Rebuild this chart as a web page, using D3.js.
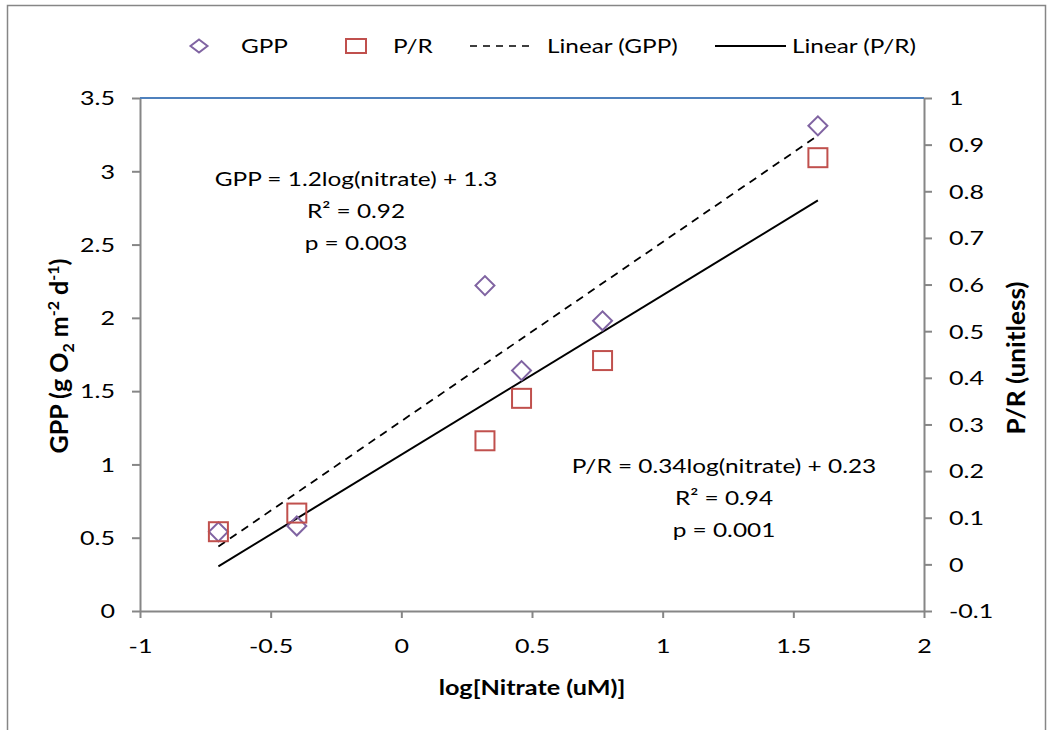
<!DOCTYPE html>
<html lang="en">
<head>
<meta charset="UTF-8">
<title>GPP and P/R vs log nitrate</title>
<style>
  body { margin: 0; background: #fff; }
  svg text { font-family: Lato, "Open Sans", sans-serif; fill: #000; }
  .tick text { font-size: 19px; }
  .axis path, .axis line { stroke: #868686; stroke-width: 2px; }
  .ann { font-size: 20px; }
  .ttl { font-weight: bold; }
</style>
</head>
<body>
<div id="chart"></div>
<script src="https://cdn.jsdelivr.net/npm/d3@7"></script>
<script>
// data
const logNitrate = [-0.70, -0.40, 0.32, 0.46, 0.77, 1.594];
const gpp = [0.54, 0.58, 2.22, 1.64, 1.98, 3.31];
const pr = [0.07, 0.11, 0.265, 0.356, 0.437, 0.872];
const xTicks = [-1, -0.5, 0, 0.5, 1, 1.5, 2];
const yLeftTicks = [0, 0.5, 1, 1.5, 2, 2.5, 3, 3.5];
const yRightTicks = [-0.1, 0, 0.1, 0.2, 0.3, 0.4, 0.5, 0.6, 0.7, 0.8, 0.9, 1];
const gppNote = ["GPP = 1.2log(nitrate) + 1.3", "R² = 0.92", "p = 0.003"];
const prNote = ["P/R = 0.34log(nitrate) + 0.23", "R² = 0.94", "p = 0.001"];
const legendNames = ["GPP", "P/R", "Linear (GPP)", "Linear (P/R)"];

const width = 1052, height = 730;
const m = { left: 140, right: 924, top: 98, bottom: 611 };
// the original text is drawn wider than it is tall
const SX = 1.32, SX_ANN = 1.22, SX_LEG = 1.28, SX_TTL = 1.23;

const svg = d3.select("#chart").append("svg")
  .attr("width", width).attr("height", height);

// outer chart frame
svg.append("rect")
  .attr("x", 7.5).attr("y", 5.5).attr("width", 1038).attr("height", 740)
  .attr("fill", "none").attr("stroke", "#868686").attr("stroke-width", 1.5);

const x = d3.scaleLinear().domain([-1, 2]).range([m.left, m.right]);
const yL = d3.scaleLinear().domain([0, 3.5]).range([m.bottom, m.top]);
const yR = d3.scaleLinear().domain([-0.1, 1]).range([m.bottom, m.top]);

// least squares fit for the trend lines
function fit(xs, ys) {
  const mx = d3.mean(xs), my = d3.mean(ys);
  let sxy = 0, sxx = 0;
  xs.forEach((v, i) => { sxy += (v - mx) * (ys[i] - my); sxx += (v - mx) * (v - mx); });
  const b = sxy / sxx;
  return { b: b, a: my - b * mx };
}
const x0 = d3.min(logNitrate), x1 = d3.max(logNitrate);
const fG = fit(logNitrate, gpp), fP = fit(logNitrate, pr);

// axes
const fmt = d => String(d);
svg.append("g").attr("class", "axis")
  .attr("transform", `translate(0,${m.bottom})`)
  .call(d3.axisBottom(x).tickValues(xTicks).tickFormat(fmt).tickSize(7).tickSizeOuter(0))
  .call(g => g.selectAll(".tick text").attr("y", 42).attr("dy", 0)
    .attr("transform", `scale(${SX},1)`));

svg.append("g").attr("class", "axis")
  .attr("transform", `translate(${m.left},0)`)
  .call(d3.axisLeft(yL).tickValues(yLeftTicks).tickFormat(fmt).tickSize(8).tickSizeOuter(0))
  .call(g => g.selectAll(".tick text").attr("x", -25 / SX).attr("dy", "0.36em")
    .attr("transform", `scale(${SX},1)`));

svg.append("g").attr("class", "axis")
  .attr("transform", `translate(${m.right},0)`)
  .call(d3.axisRight(yR).tickValues(yRightTicks).tickFormat(fmt).tickSize(8).tickSizeOuter(0))
  .call(g => g.selectAll(".tick text").attr("x", 25 / SX).attr("dy", "0.36em")
    .attr("transform", `scale(${SX},1)`));

// top border line (blue)
svg.append("line")
  .attr("x1", m.left).attr("x2", m.right).attr("y1", m.top).attr("y2", m.top)
  .attr("stroke", "#4f81bd").attr("stroke-width", 2);

// trend lines
svg.append("line")
  .attr("x1", x(x0)).attr("x2", x(x1))
  .attr("y1", yL(fG.a + fG.b * x0)).attr("y2", yL(fG.a + fG.b * x1))
  .attr("stroke", "#000").attr("stroke-width", 1.8).attr("stroke-dasharray", "8,6");
svg.append("line")
  .attr("x1", x(x0)).attr("x2", x(x1))
  .attr("y1", yR(fP.a + fP.b * x0)).attr("y2", yR(fP.a + fP.b * x1))
  .attr("stroke", "#000").attr("stroke-width", 2);

// markers
const diamond = d3.symbol().type(d3.symbolSquare).size(180);
svg.append("g").selectAll("path")
  .data(logNitrate)
  .join("path")
  .attr("d", diamond)
  .attr("transform", (d, i) => `translate(${x(d)},${yL(gpp[i])}) rotate(45)`)
  .attr("fill", "none").attr("stroke", "#8064a2").attr("stroke-width", 2);

svg.append("g").selectAll("rect")
  .data(logNitrate)
  .join("rect")
  .attr("x", d => x(d) - 9.5).attr("y", (d, i) => yR(pr[i]) - 9.5)
  .attr("width", 19).attr("height", 19)
  .attr("fill", "none").attr("stroke", "#c0504d").attr("stroke-width", 2);

// stretched text helper
function label(parent, px, py, txt, cls, anchor, sx) {
  return parent.append("text")
    .attr("class", cls)
    .attr("transform", `translate(${px},${py}) scale(${sx},1)`)
    .attr("text-anchor", anchor)
    .text(txt);
}

// equations
function note(lines, cx, y0) {
  lines.forEach((t, i) => label(svg, cx, y0 + i * 32, t, "ann", "middle", SX_ANN));
}
note(gppNote, 356, 186);
note(prNote, 724, 473);

// axis titles
label(svg, 532, 695, "log[Nitrate (uM)]", "ttl", "middle", SX_TTL).style("font-size", "20.5px");

const lt = svg.append("text").attr("class", "ttl")
  .attr("transform", "translate(68,356) rotate(-90)").attr("text-anchor", "middle")
  .style("font-size", "25px");
lt.append("tspan").text("GPP (g O");
lt.append("tspan").attr("dy", 6).attr("font-size", "16px").text("2");
lt.append("tspan").attr("dy", -6).text(" m");
lt.append("tspan").attr("dy", -9).attr("font-size", "16px").text("-2");
lt.append("tspan").attr("dy", 9).text(" d");
lt.append("tspan").attr("dy", -9).attr("font-size", "16px").text("-1");
lt.append("tspan").attr("dy", 9).text(")");

svg.append("text").attr("class", "ttl")
  .attr("transform", "translate(1025,358) rotate(-90)").attr("text-anchor", "middle")
  .style("font-size", "25px")
  .attr("textLength", 153).attr("lengthAdjust", "spacingAndGlyphs")
  .text("P/R (unitless)");

// legend
const lg = svg.append("g").attr("class", "legend");
lg.append("path").attr("d", "M0,-6.5L8.5,0L0,6.5L-8.5,0Z")
  .attr("transform", "translate(199,46)")
  .attr("fill", "none").attr("stroke", "#8064a2").attr("stroke-width", 2);
lg.append("rect").attr("x", 346).attr("y", 39).attr("width", 20).attr("height", 14)
  .attr("fill", "none").attr("stroke", "#c0504d").attr("stroke-width", 2);
lg.append("line").attr("x1", 470).attr("x2", 533).attr("y1", 46).attr("y2", 46)
  .attr("stroke", "#000").attr("stroke-width", 1.5).attr("stroke-dasharray", "7,6");
lg.append("line").attr("x1", 715).attr("x2", 786).attr("y1", 46).attr("y2", 46)
  .attr("stroke", "#000").attr("stroke-width", 1.8);
const legendX = [241, 393, 547, 792];
legendNames.forEach((t, i) => label(lg, legendX[i], 53, t, "lt", "start", SX_LEG).style("font-size", "19px"));
</script>
</body>
</html>
